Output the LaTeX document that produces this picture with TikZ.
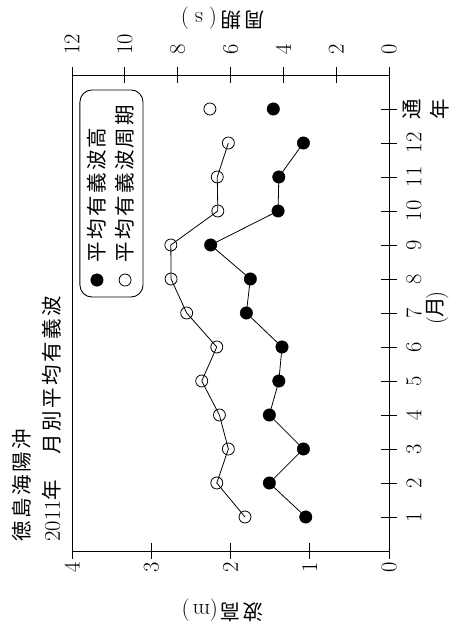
\documentclass[tikz,border=0pt]{standalone}
\usepackage{fontspec}
\newfontfamily\jp[LetterSpace=12]{Noto Sans CJK JP}
\newcommand\fsz{\fontsize{22.5}{28}\selectfont}
\newcommand\jsz{\fontsize{20.5}{28}\selectfont}
\tikzset{
  ax/.style={line width=0.9pt},
  tk/.style={line width=0.9pt},
  lbl/.style={font=\fsz, inner sep=0pt},
  jlbl/.style={font=\jsz\jp, inner sep=0pt},
  hmark/.style={circle, fill=black, draw=black, minimum size=12.5pt, inner sep=0pt},
  tmark/.style={circle, draw=black, line width=0.8pt, minimum size=12pt, inner sep=0pt},
  conn/.style={line width=0.8pt},
  legbox/.style={draw, line width=0.9pt, rounded corners=12pt},
}
\begin{document}
\begin{tikzpicture}
\useasboundingbox (0,0) rectangle (454pt,626pt);
\begin{scope}[shift={(389pt,75pt)}, rotate=90, transform shape, x=34pt, y=79.25pt]
  % frame
  \draw[ax] (0,0) rectangle (14,4);
  % month ticks and labels
  \foreach \m in {1,...,13} \draw[tk] (\m,-0.101) -- (\m,0.101);
  \foreach \m in {1,...,12} \node[lbl] (mx\m) at (\m,-0.315) {\m};
  \node[jlbl, align=center] (mx13) at (13,-0.467) {通\\年};
  \node[lbl] (xlab) at (7.15,-0.61) {(\kern-1pt{\jsz\jp 月}\kern-2pt)};
  % wave height axis
  \foreach \h in {0,...,4} \draw[tk] (-0.235,\h) -- (0.235,\h);
  \foreach \h in {0,...,4} \node[lbl] (hy\h) at (-0.485,\h) {\h};
  \node[jlbl, rotate=90] (ylab) at (-1.74,2.1) {波高\hspace{2pt}{\fsz\rmfamily(m\hspace{3pt})}};
  % period axis
  \foreach \p in {0,2,...,12} \draw[tk] (13.765,\p/3) -- (14.235,\p/3);
  \foreach \p in {0,2,...,12} \node[lbl, anchor=west] (py\p) at (14.59,\p/3) {\p};
  \node[jlbl, rotate=90] (y2lab) at (15.68,2.1) {周期\hspace{4pt}{\fsz\rmfamily(\hspace{6pt}s\hspace{6pt})}};
  % title
  \node[jlbl, anchor=west] (t1) at (0.27,4.63) {徳島海陽沖};
  \node[jlbl, anchor=west] (t2) at (0.27,4.25) {{\fsz\rmfamily 2011}年　月別平均有義波};
  % legend
  \draw[legbox] (7.47,3.104) rectangle (13.56,3.90);
  \node[hmark] (lh) at (7.97,3.685) {};
  \node[jlbl, anchor=west] (lht) at (8.47,3.685) {平均有義波高};
  \node[tmark] (lt) at (7.97,3.33) {};
  \node[jlbl, anchor=west] (ltt) at (8.47,3.33) {平均有義波周期};
  % wave height data
  \foreach \m/\v in {1/1.05,2/1.51,3/1.08,4/1.51,5/1.39,6/1.35,7/1.80,8/1.75,9/2.25,10/1.40,11/1.39,12/1.08,13/1.46}
    \node[hmark] (h\m) at (\m,\v) {};
  % period data (scaled: T/3)
  \foreach \m/\v in {1/1.817,2/2.173,3/2.027,4/2.14,5/2.363,6/2.173,7/2.553,8/2.75,9/2.753,10/2.16,11/2.167,12/2.027,13/2.26}
    \node[tmark] (p\m) at (\m,\v) {};
  \draw[conn] (h1.center) -- (h2.center) -- (h3.center) -- (h4.center) -- (h5.center) -- (h6.center) -- (h7.center) -- (h8.center) -- (h9.center) -- (h10.center) -- (h11.center) -- (h12.center);
  \draw[conn] (p1.center) -- (p2.center) -- (p3.center) -- (p4.center) -- (p5.center) -- (p6.center) -- (p7.center) -- (p8.center) -- (p9.center) -- (p10.center) -- (p11.center) -- (p12.center);
\end{scope}
\end{tikzpicture}
\end{document}
